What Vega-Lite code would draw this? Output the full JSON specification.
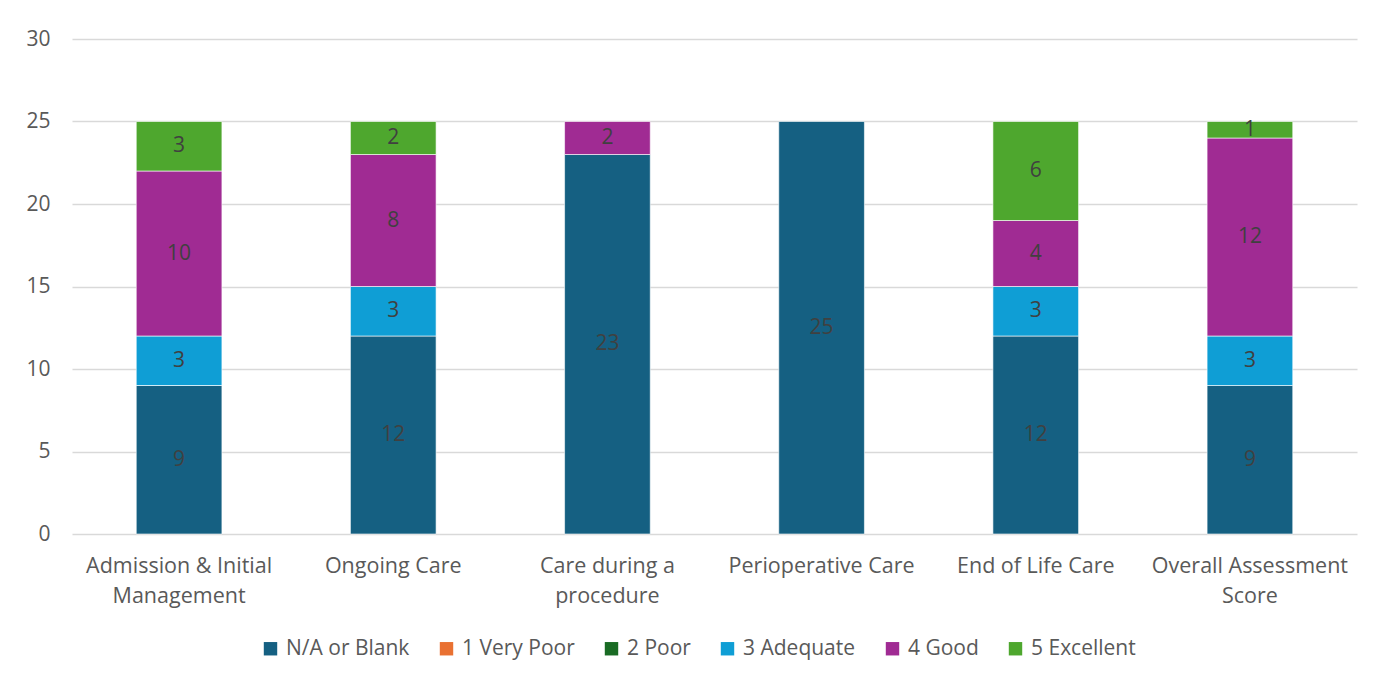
{
  "$schema": "https://vega.github.io/schema/vega-lite/v6.json",
  "width": 1285,
  "height": 495,
  "autosize": {"type": "none"},
  "padding": {"left": 72, "top": 39, "right": 32, "bottom": 145},
  "background": "white",
  "config": {
    "font": "Open Sans",
    "view": {"stroke": null},
    "axis": {"labelColor": "#595959", "titleColor": "#595959"}
  },
  "data": {
    "values": [
      {"area": "Admission & Initial Management", "rating": "N/A or Blank", "count": 9},
      {"area": "Admission & Initial Management", "rating": "1 Very Poor", "count": 0},
      {"area": "Admission & Initial Management", "rating": "2 Poor", "count": 0},
      {"area": "Admission & Initial Management", "rating": "3 Adequate", "count": 3},
      {"area": "Admission & Initial Management", "rating": "4 Good", "count": 10},
      {"area": "Admission & Initial Management", "rating": "5 Excellent", "count": 3},
      {"area": "Ongoing Care", "rating": "N/A or Blank", "count": 12},
      {"area": "Ongoing Care", "rating": "3 Adequate", "count": 3},
      {"area": "Ongoing Care", "rating": "4 Good", "count": 8},
      {"area": "Ongoing Care", "rating": "5 Excellent", "count": 2},
      {"area": "Care during a procedure", "rating": "N/A or Blank", "count": 23},
      {"area": "Care during a procedure", "rating": "4 Good", "count": 2},
      {"area": "Perioperative Care", "rating": "N/A or Blank", "count": 25},
      {"area": "End of Life Care", "rating": "N/A or Blank", "count": 12},
      {"area": "End of Life Care", "rating": "3 Adequate", "count": 3},
      {"area": "End of Life Care", "rating": "4 Good", "count": 4},
      {"area": "End of Life Care", "rating": "5 Excellent", "count": 6},
      {"area": "Overall Assessment Score", "rating": "N/A or Blank", "count": 9},
      {"area": "Overall Assessment Score", "rating": "3 Adequate", "count": 3},
      {"area": "Overall Assessment Score", "rating": "4 Good", "count": 12},
      {"area": "Overall Assessment Score", "rating": "5 Excellent", "count": 1}
    ]
  },
  "transform": [
    {
      "calculate": "indexof(['N/A or Blank','1 Very Poor','2 Poor','3 Adequate','4 Good','5 Excellent'], datum.rating)",
      "as": "order"
    },
    {
      "stack": "count",
      "groupby": ["area"],
      "sort": [{"field": "order", "order": "ascending"}],
      "as": ["lo", "hi"]
    },
    {"calculate": "(datum.lo + datum.hi) / 2", "as": "mid"}
  ],
  "encoding": {
    "x": {
      "field": "area",
      "type": "nominal",
      "sort": null,
      "scale": {"paddingInner": 0.6, "paddingOuter": 0.3},
      "axis": {
        "title": null,
        "labelAngle": 0,
        "labelFontSize": 21.5,
        "labelPadding": 21,
        "labelLineHeight": 30,
        "labelBaseline": "top",
        "ticks": false,
        "domain": false,
        "labelLimit": 0,
        "labelExpr": "datum.label == 'Admission & Initial Management' ? ['Admission & Initial', 'Management'] : datum.label == 'Care during a procedure' ? ['Care during a', 'procedure'] : datum.label == 'Overall Assessment Score' ? ['Overall Assessment', 'Score'] : datum.label"
      }
    }
  },
  "layer": [
    {
      "mark": {"type": "bar", "stroke": "white", "strokeWidth": 0.6},
      "encoding": {
        "y": {
          "field": "lo",
          "type": "quantitative",
          "scale": {"domain": [0, 30], "nice": false},
          "axis": {
            "title": null,
            "values": [0, 5, 10, 15, 20, 25, 30],
            "labelFontSize": 21,
            "labelPadding": 22,
            "ticks": false,
            "domain": false,
            "gridColor": "#d9d9d9",
            "gridWidth": 1.3
          }
        },
        "y2": {"field": "hi"},
        "color": {
          "field": "rating",
          "type": "nominal",
          "scale": {
            "domain": ["N/A or Blank", "1 Very Poor", "2 Poor", "3 Adequate", "4 Good", "5 Excellent"],
            "range": ["#156082", "#E97132", "#196B24", "#0F9ED5", "#A02B93", "#4EA72E"]
          },
          "legend": {
            "title": null,
            "orient": "none",
            "legendX": 188,
            "legendY": 599,
            "direction": "horizontal",
            "symbolType": "square",
            "symbolSize": 180,
            "symbolStrokeWidth": 0,
            "labelFontSize": 21,
            "labelColor": "#595959",
            "columnPadding": 26,
            "labelOffset": 5
          }
        }
      }
    },
    {
      "transform": [{"filter": "datum.count > 0"}],
      "mark": {"type": "text", "fontSize": 21, "color": "#404040", "baseline": "middle"},
      "encoding": {
        "y": {"field": "mid", "type": "quantitative"},
        "text": {"field": "count", "type": "quantitative"}
      }
    }
  ]
}
